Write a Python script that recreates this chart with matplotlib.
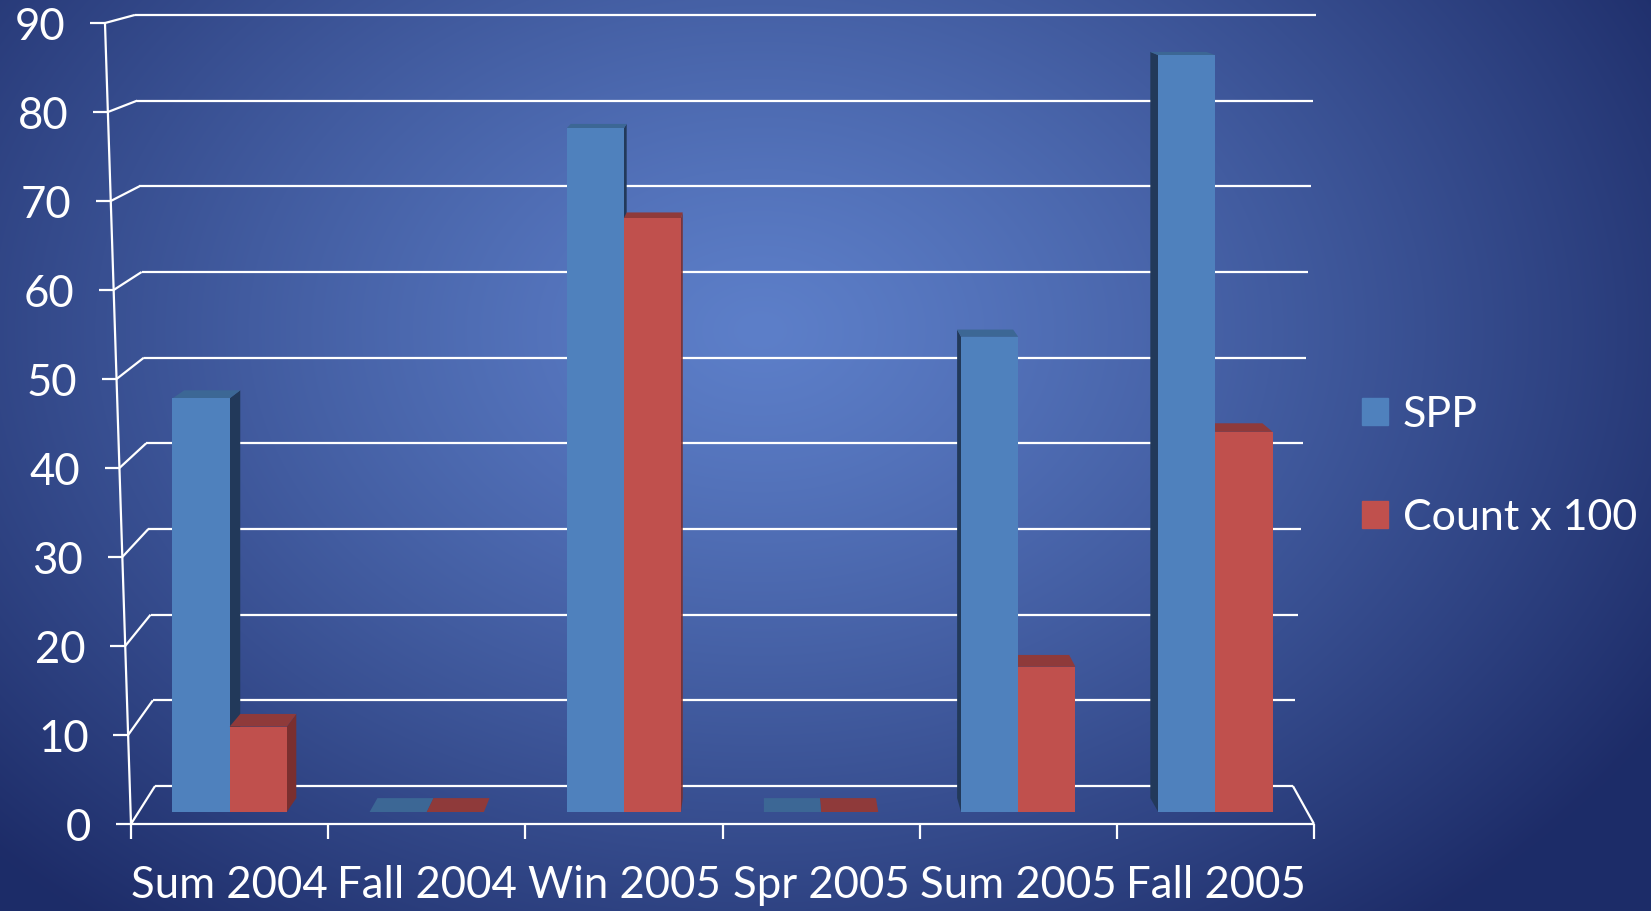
import numpy as np
import matplotlib
matplotlib.use('Agg')
import matplotlib.pyplot as plt
from matplotlib.patches import Polygon, Patch
from matplotlib.colors import to_rgb

plt.rcParams['font.family'] = ['Lato', 'DejaVu Sans']

# data
categories = ['Sum 2004', 'Fall 2004', 'Win 2005', 'Spr 2005', 'Sum 2005', 'Fall 2005']
spp = [47, 0, 77.7, 0, 54, 86]
count_x100 = [9.7, 0, 67.5, 0, 16.5, 43.2]
series_names = ['SPP', 'Count x 100']
y_ticks = list(range(0, 91, 10))

# colours: front, top, side
blue = ['#4f81bd', '#3c6795', '#22395a']
red = ['#c0504d', '#8f3a3a', '#7a2f2f']

W, H, DPI = 1651, 911, 100
fig = plt.figure(figsize=(W / DPI, H / DPI), dpi=DPI)

# radial gradient background
bg = fig.add_axes([0, 0, 1, 1], zorder=-10)
yy, xx = np.mgrid[0:H, 0:W]
r = np.sqrt(((xx - 760) / 1050.0) ** 2 + ((yy - 330) / 760.0) ** 2)
r = np.clip(r, 0, 1) ** 1.2
c0 = np.array(to_rgb('#5d7fc9'))
c1 = np.array(to_rgb('#1d2c68'))
bg.imshow(c0 + (c1 - c0) * r[..., None], aspect='auto', interpolation='bilinear')
bg.axis('off')

# main axes: x in category units, y in values
ax = fig.add_axes([131 / W, 99 / H, 1183 / W, 792 / H])
ax.set_xlim(0, len(categories))
ax.set_ylim(0, 90)
ax.patch.set_visible(False)
ax.axis('off')

# pseudo 3d frame (data units)
def v_front(v):
    return -1.36 + 1.0113 * v

def v_back(v):
    return 2.95 + 0.9736 * v

def xl_front(v):
    return -0.132 * v / 90

def xl_back(v):
    return 0.122 - 0.102 * v / 90

def xr_back(v):
    return 5.893 + 0.117 * v / 90

line_kw = dict(color='white', lw=1.6, clip_on=False, zorder=1, solid_capstyle='butt')
for v in y_ticks:
    ax.plot([xl_back(v), xr_back(v)], [v_back(v), v_back(v)], **line_kw)
    ax.plot([xl_front(v), xl_back(v)], [v_front(v), v_back(v)], **line_kw)
    ax.plot([xl_front(v) - 0.075, xl_front(v)], [v_front(v), v_front(v)], **line_kw)
    ax.text(xl_front(v) - 0.2, v_front(v) - 0.5, str(v), ha='right', va='center',
            color='white', fontsize=31.5)
ax.plot([xl_front(0), xl_front(90)], [v_front(0), v_front(90)], **line_kw)
n = len(categories)
ax.plot([0, n], [v_front(0), v_front(0)], **line_kw)
ax.plot([n, xr_back(0)], [v_front(0), v_back(0)], **line_kw)
for i in range(n + 1):
    ax.plot([i, i], [v_front(0), v_front(0) - 1.7], **line_kw)

x = np.arange(n) + 0.5
for xi, lab in zip(x, categories):
    ax.text(xi, -8.4, lab, ha='center', va='center', color='white', fontsize=31.5)

# bars
bw = 0.29
XV, YV, KX, KY = 3.205, 112.7, 0.02, 0.014


def back(px, py):
    return (px + (XV - px) * KX, py + (YV - py) * KY)


def draw_faces(rect, cols, z):
    x0, w, h = rect.get_x(), rect.get_width(), rect.get_height()
    fl, fr, tr, tl = (x0, 0), (x0 + w, 0), (x0 + w, h), (x0, h)
    top = [tl, tr, back(*tr), back(*tl)]
    if x0 + w / 2 < XV:
        side = [fr, tr, back(*tr), back(*fr)]
    else:
        side = [fl, tl, back(*tl), back(*fl)]
    ax.add_patch(Polygon(side, closed=True, fc=cols[2], ec='none', zorder=z - 0.2, clip_on=False))
    ax.add_patch(Polygon(top, closed=True, fc=cols[1], ec='none', zorder=z - 0.1, clip_on=False))
    rect.set_zorder(z)


bars_spp = ax.bar(x - bw / 2, spp, bw, color=blue[0], linewidth=0)
bars_cnt = ax.bar(x + bw / 2, count_x100, bw, color=red[0], linewidth=0)
for i in range(n):
    if x[i] < XV:
        zb, zr = 5, 6
    else:
        zb, zr = 6, 5
    draw_faces(bars_spp[i], blue, zb)
    draw_faces(bars_cnt[i], red, zr)

handles = [Patch(color=blue[0]), Patch(color=red[0])]
fig.legend(handles, series_names, loc='upper left', bbox_to_anchor=(1362 / W, 1 - 396 / H),
           frameon=False, fontsize=31, labelcolor='white', handlelength=0.6,
           handleheight=0.6, handletextpad=0.35, labelspacing=1.5,
           borderaxespad=0, borderpad=0)

fig.savefig('out.png', dpi=DPI)
